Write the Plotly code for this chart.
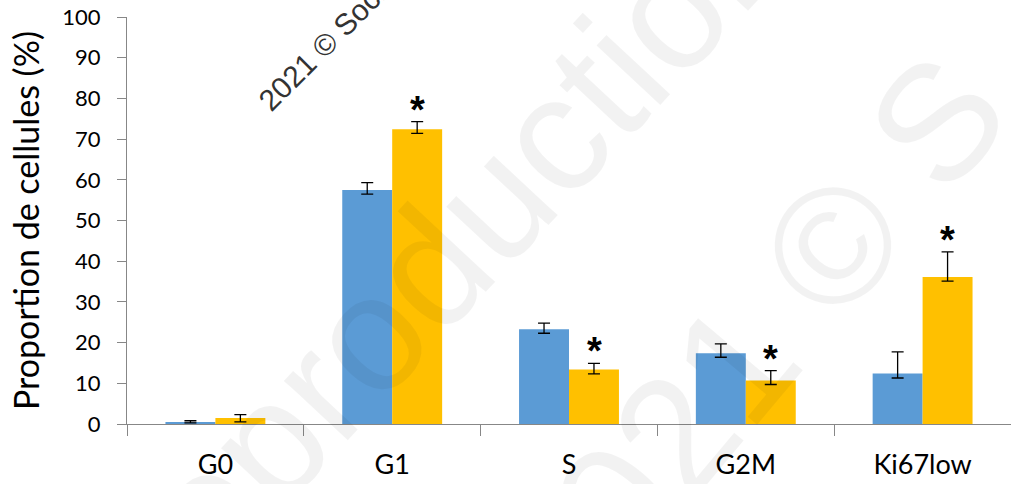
import plotly.graph_objects as go

categories = ["G0", "G1", "S", "G2M", "Ki67low"]
blue_values = [0.5, 57.5, 23.3, 17.4, 12.4]
blue_err_up = [0.3, 1.8, 1.5, 2.3, 5.3]
blue_err_down = [0.2, 1.0, 1.0, 1.0, 1.1]
orange_values = [1.5, 72.4, 13.4, 10.7, 36.1]
orange_err_up = [0.8, 1.9, 1.5, 2.4, 6.2]
orange_err_down = [1.0, 1.0, 1.1, 1.0, 1.0]
significant = [False, True, True, True, True]
y_ticks = list(range(0, 101, 10))

BLUE = "#5B9BD5"
ORANGE = "#FFC000"
FONT = "Lato"

fig = go.Figure()
fig.add_trace(go.Bar(
    x=categories, y=blue_values, marker=dict(color=BLUE, line=dict(width=0)),
    error_y=dict(type="data", symmetric=False, array=blue_err_up, arrayminus=blue_err_down,
                 color="black", thickness=1.3, width=6),
    showlegend=False,
))
fig.add_trace(go.Bar(
    x=categories, y=orange_values, marker=dict(color=ORANGE, line=dict(width=0)),
    error_y=dict(type="data", symmetric=False, array=orange_err_up, arrayminus=orange_err_down,
                 color="black", thickness=1.3, width=6),
    showlegend=False,
))

annotations = []
for cat, v, e, s in zip(categories, orange_values, orange_err_up, significant):
    if s:
        annotations.append(dict(
            x=cat, y=v + e, xref="x", yref="y", text="<b>*</b>", showarrow=False,
            xshift=25, yshift=-11, yanchor="bottom",
            font=dict(family="Liberation Sans", size=38, color="black"),
        ))

# faint watermark
annotations.append(dict(
    x=0.339, y=0.373, xref="paper", yref="paper", text="Reproduction", showarrow=False,
    textangle=-47, font=dict(family="Liberation Sans", size=165, color="rgba(0,0,0,0.05)"),
    xanchor="center", yanchor="middle",
))
annotations.append(dict(
    x=0.705, y=0.197, xref="paper", yref="paper", text="2021 © S", showarrow=False,
    textangle=-50, font=dict(family="Liberation Sans", size=165, color="rgba(0,0,0,0.05)"),
    xanchor="center", yanchor="middle",
))
annotations.append(dict(
    x=0.2375, y=0.961, xref="paper", yref="paper", text="2021 © Société", showarrow=False,
    textangle=-45, font=dict(family="Liberation Sans", size=30, color="#333333"),
    xanchor="center", yanchor="middle",
))

fig.update_layout(
    width=1011, height=484,
    margin=dict(l=127, r=0, t=17, b=60),
    paper_bgcolor="white", plot_bgcolor="white",
    barmode="group", bargap=0.435, bargroupgap=0,
    annotations=annotations,
    font=dict(family=FONT, color="black"),
)
fig.update_xaxes(
    showline=True, linecolor="#878787", linewidth=1.3,
    ticks="outside", tickson="boundaries", ticklen=11, tickcolor="#878787", tickwidth=1.3,
    tickfont=dict(family=FONT, size=27, color="black"), ticklabelstandoff=16,
    showgrid=False, zeroline=False,
)
fig.update_yaxes(
    range=[0, 100], tickvals=y_ticks,
    showline=True, linecolor="#878787", linewidth=1.3,
    ticks="outside", ticklen=9, tickcolor="#878787", tickwidth=1.3,
    tickfont=dict(family=FONT, size=22, color="black"), ticklabelstandoff=12,
    showgrid=False, zeroline=False,
    title=dict(text="Proportion de cellules (%)", font=dict(family=FONT, size=34, color="black"), standoff=12),
)

fig.write_html("out.html")
